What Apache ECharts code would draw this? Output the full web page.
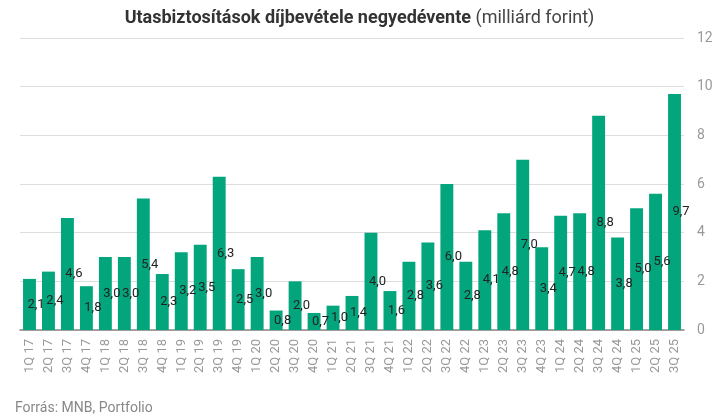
<!DOCTYPE html>
<html><head><meta charset="utf-8">
<script src="https://cdn.jsdelivr.net/npm/echarts@6/dist/echarts.min.js"></script>
<style>html,body{margin:0;padding:0;background:#fff}#c{width:719px;height:417px}</style>
</head><body><div id="c"></div>
<script>
const categories = ['1Q 17','2Q 17','3Q 17','4Q 17','1Q 18','2Q 18','3Q 18','4Q 18','1Q 19','2Q 19','3Q 19','4Q 19','1Q 20','2Q 20','3Q 20','4Q 20','1Q 21','2Q 21','3Q 21','4Q 21','1Q 22','2Q 22','3Q 22','4Q 22','1Q 23','2Q 23','3Q 23','4Q 23','1Q 24','2Q 24','3Q 24','4Q 24','1Q 25','2Q 25','3Q 25'];
const values = [2.1,2.4,4.6,1.8,3.0,3.0,5.4,2.3,3.2,3.5,6.3,2.5,3.0,0.8,2.0,0.7,1.0,1.4,4.0,1.6,2.8,3.6,6.0,2.8,4.1,4.8,7.0,3.4,4.7,4.8,8.8,3.8,5.0,5.6,9.7];
const titleBold = 'Utasbiztosítások díjbevétele negyedévente';
const titleNormal = '(milliárd forint)';
const sourceText = 'Forrás: MNB, Portfolio';

const chart = echarts.init(document.getElementById('c'));
chart.setOption({
  animation: false,
  textStyle: {fontFamily: 'Roboto'},
  title: [{
    text: '{b|' + titleBold + '} {n|' + titleNormal + '}',
    left: 'center', top: 4,
    textStyle: {
      rich: {
        b: {fontFamily: 'Roboto', fontWeight: 'bold', fontSize: 18, color: '#333'},
        n: {fontFamily: 'Roboto', fontWeight: 'normal', fontSize: 18, color: '#444'}
      }
    }
  }, {
    text: sourceText, left: 10, top: 396,
    textStyle: {fontFamily: 'Roboto', fontWeight: 'normal', fontSize: 14, color: '#888'}
  }],
  grid: {left: 20, right: 35, top: 38, bottom: 87},
  xAxis: {
    type: 'category', data: categories,
    axisTick: {show: false},
    axisLine: {lineStyle: {color: '#888', width: 1.5}},
    axisLabel: {rotate: 90, color: '#999', fontSize: 13, margin: 9, interval: 0}
  },
  yAxis: {
    type: 'value', position: 'right', min: 0, max: 12, interval: 2,
    axisLine: {show: false}, axisTick: {show: false},
    splitLine: {lineStyle: {color: '#dddddd'}},
    axisLabel: {color: '#999', fontSize: 14, margin: 13, align: 'left'}
  },
  series: [{
    type: 'bar', data: values,
    barCategoryGap: '32%',
    itemStyle: {color: '#03a67c'},
    label: {
      show: true, position: 'inside', offset: [6.5, 0],
      color: '#222', fontSize: 13,
      formatter: p => p.value.toFixed(1).replace('.', ',')
    }
  }]
});
</script></body></html>
